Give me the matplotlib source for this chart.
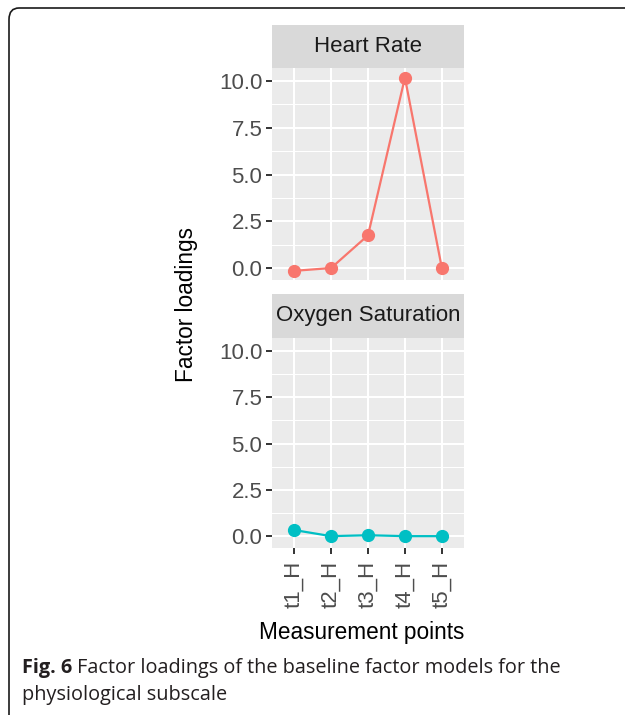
import numpy as np
import matplotlib.pyplot as plt
from matplotlib.patches import FancyBboxPatch, Rectangle
from matplotlib.ticker import MultipleLocator

points = ["t1_H", "t2_H", "t3_H", "t4_H", "t5_H"]
heart_rate = [-0.15, 0.0, 1.75, 10.18, 0.0]
oxygen_sat = [0.33, 0.0, 0.05, 0.0, 0.0]
panels = ["Heart Rate", "Oxygen Saturation"]
colors = ["#F8766D", "#00BFC4"]

plt.rcParams['font.family'] = ['Liberation Sans', 'DejaVu Sans']

W, H = 625, 715
fig = plt.figure(figsize=(W / 100, H / 100), dpi=100)

# outer rounded frame
box = FancyBboxPatch((9 / W, -20 / H), 660 / W, (H - 8 + 20) / H,
                     boxstyle="round,pad=0,rounding_size=0.016",
                     transform=fig.transFigure, fill=False,
                     edgecolor="#1a1a1a", linewidth=1.2, clip_on=False)
fig.patches.append(box)

def px_axes(x0, y0, x1, y1):
    return fig.add_axes([x0 / W, 1 - y1 / H, (x1 - x0) / W, (y1 - y0) / H])

layout = [(25, 68, 280), (294, 338, 548)]
x = np.arange(1, len(points) + 1)

for i, (s0, p0, p1) in enumerate(layout):
    ax = px_axes(272, p0, 464, p1)
    vals = heart_rate if i == 0 else oxygen_sat
    ax.set_facecolor("#EBEBEB")
    ax.plot(x, vals, color=colors[i], lw=1.6, marker="o", ms=8.5, zorder=3)
    ax.set_xlim(0.4, 5.6)
    ax.set_ylim(-0.64, 10.7)
    ax.yaxis.set_minor_locator(MultipleLocator(1.25))
    ax.set_yticks([0, 2.5, 5, 7.5, 10])
    ax.set_yticklabels(["0.0", "2.5", "5.0", "7.5", "10.0"])
    ax.grid(which="major", color="white", lw=1.5)
    ax.grid(which="minor", axis="y", color="white", lw=0.75)
    ax.set_axisbelow(True)
    for sp in ax.spines.values():
        sp.set_visible(False)
    ax.tick_params(axis="both", which="major", length=4.5, width=1.4,
                   color="#333333", labelcolor="#4D4D4D", labelsize=16, pad=2.5)
    ax.tick_params(axis="x", pad=4.5)
    ax.tick_params(axis="y", which="minor", length=0)
    ax.set_xticks(x)
    if i == 0:
        ax.tick_params(axis="x", length=0, labelbottom=False)
    else:
        ax.set_xticklabels(points, rotation=90, va="top")
    # strip
    st = px_axes(272, s0, 464, p0)
    st.set_xlim(0, 1)
    st.set_ylim(0, 1)
    st.axis("off")
    st.add_patch(Rectangle((0, 0), 1, 1, facecolor="#D9D9D9", edgecolor="none"))
    st.text(0.5, 0.5, panels[i], ha="center", va="center", fontsize=16,
            color="#1A1A1A")

fig.text(187 / W, 1 - 305 / H, "Factor loadings", rotation=90, ha="center",
         va="center", fontsize=16.3, color="black")
fig.text(362 / W, 1 - 633 / H, "Measurement points", ha="center",
         va="center", fontsize=16.3, color="black")

# caption
cap_fam = ["Open Sans", "DejaVu Sans"]
t = fig.text(22 / W, 1 - 668 / H, "Fig. 6", fontsize=14.3, fontweight="bold",
             family=cap_fam, color="#231F20", va="center")
fig.canvas.draw()
bb = t.get_window_extent()
fig.text((bb.x1 + 5) / W, 1 - 668 / H,
         "Factor loadings of the baseline factor models for the",
         fontsize=14.3, family=cap_fam, color="#231F20", va="center")
fig.text(22 / W, 1 - 695 / H, "physiological subscale", fontsize=14.3,
         family=cap_fam, color="#231F20", va="center")

fig.savefig("out.png", dpi=100)
